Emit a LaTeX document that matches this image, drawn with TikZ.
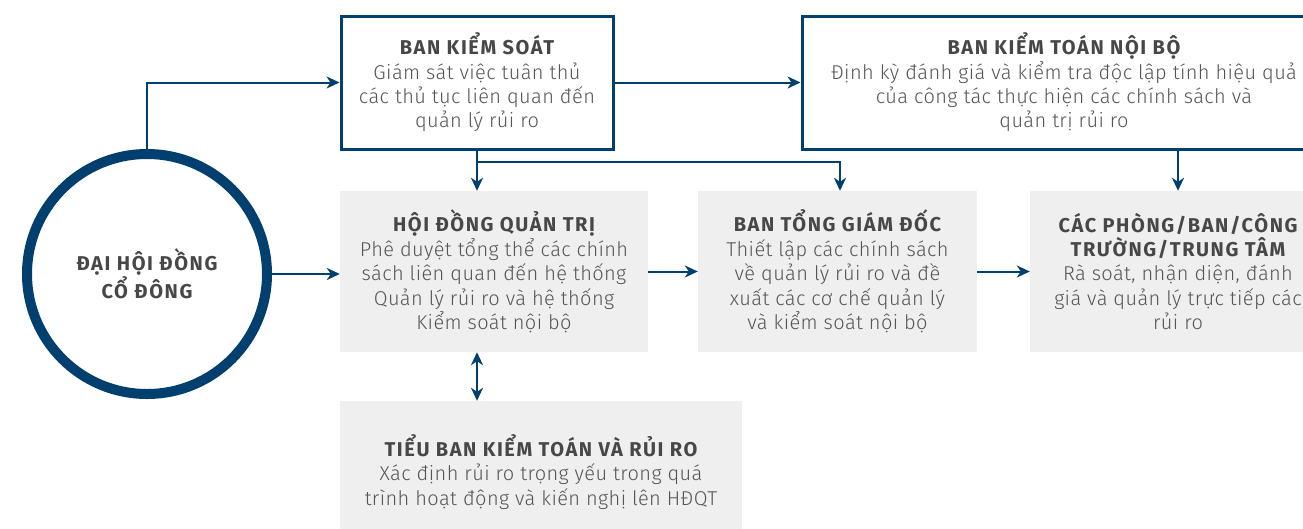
\documentclass[tikz,border=0pt]{standalone}
\usepackage{fontspec}
\setmainfont{Fira Sans Light}[BoldFont={Fira Sans Bold}]
\usetikzlibrary{arrows.meta}
\definecolor{navy}{HTML}{003F6E}
\definecolor{boxgray}{HTML}{EFEFEF}
\definecolor{txt}{HTML}{555555}
\definecolor{ttl}{HTML}{474747}
\begin{document}
\begin{tikzpicture}[x=1pt,y=-1pt,
  base/.style={align=center,text=txt,font=\fontsize{20}{24.4}\selectfont\addfontfeatures{LetterSpace=2},inner sep=0pt},
  wbox/.style={base,draw=navy,line width=3pt,fill=white},
  gbox/.style={base,fill=boxgray},
  conn/.style={draw=navy,line width=2pt,-{Stealth[length=13pt,width=12pt,inset=4pt]}},
  dconn/.style={draw=navy,line width=2pt,{Stealth[length=13pt,width=12pt,inset=4pt]}-{Stealth[length=13pt,width=12pt,inset=4pt]}}]
\useasboundingbox (0,0) rectangle (1303,528);
\clip (0,0) rectangle (1303,528);
\newcommand{\hd}[1]{{\bfseries\addfontfeatures{LetterSpace=8}\color{ttl}#1}}
\node[circle,draw=navy,line width=10pt,fill=white,minimum size=240pt,base] (dhcd) at (147,274)
  {\hd{ĐẠI HỘI ĐỒNG}\\\hd{CỔ ĐÔNG}};
\node[wbox,minimum width=272pt,minimum height=133pt] (bks) at (477,82.5)
  {\hd{BAN KIỂM SOÁT}\\Giám sát việc tuân thủ\\các thủ tục liên quan đến\\quản lý rủi ro};
\node[wbox,minimum width=524pt,minimum height=133pt] (bktnb) at (1064,82.5)
  {\hd{BAN KIỂM TOÁN NỘI BỘ}\\Định kỳ đánh giá và kiểm tra độc lập tính hiệu quả\\của công tác thực hiện các chính sách và\\quản trị rủi ro};
\node[gbox,minimum width=308pt,minimum height=161pt] (hdqt) at (494,271.5)
  {\hd{HỘI ĐỒNG QUẢN TRỊ}\\Phê duyệt tổng thể các chính\\sách liên quan đến hệ thống\\Quản lý rủi ro và hệ thống\\Kiểm soát nội bộ};
\node[gbox,minimum width=279pt,minimum height=161pt] (btgd) at (837.5,271.5)
  {\hd{BAN TỔNG GIÁM ĐỐC}\\Thiết lập các chính sách\\về quản lý rủi ro và đề\\xuất các cơ chế quản lý\\và kiểm soát nội bộ};
\node[gbox,minimum width=296pt,minimum height=161pt] (cp) at (1178,271.5)
  {\hd{CÁC PHÒNG/BAN/CÔNG}\\\hd{TRƯỜNG/TRUNG TÂM}\\Rà soát, nhận diện, đánh\\giá và quản lý trực tiếp các\\rủi ro};
\node[gbox,minimum width=402pt,minimum height=142pt] (tb) at (541,472)
  {\hd{TIỂU BAN KIỂM TOÁN VÀ RỦI RO}\\Xác định rủi ro trọng yếu trong quá\\trình hoạt động và kiến nghị lên HĐQT};
\coordinate (br) at (477,162);
\draw[conn] (dhcd.north) |- (bks.west);
\draw[conn] (bks.east) -- (bktnb.west);
\draw[conn] (bks.south) -- (bks.south |- hdqt.north);
\draw[conn] (br) -| ([xshift=2.5pt]btgd.north);
\draw[conn] (cp.north |- bktnb.south) -- (cp.north);
\draw[conn] (dhcd.east) -- (dhcd.east -| hdqt.west);
\draw[conn] (hdqt.east) -- (hdqt.east -| btgd.west);
\draw[conn] (btgd.east) -- (btgd.east -| cp.west);
\draw[dconn] (br |- hdqt.south) -- (br |- tb.north);
\end{tikzpicture}
\end{document}
